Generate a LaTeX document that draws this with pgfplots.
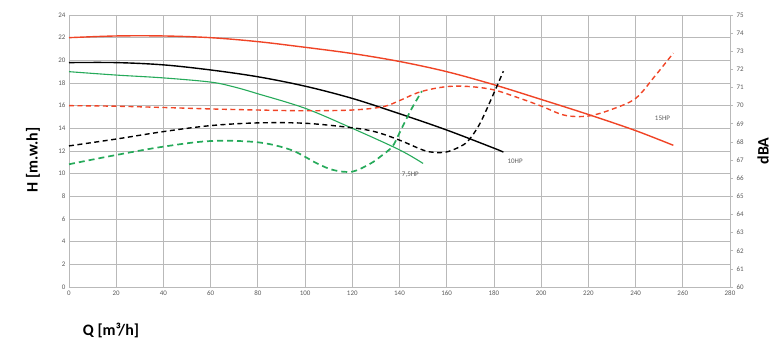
\documentclass[border=0pt]{standalone}
\usepackage{fontspec}
\setmainfont{Carlito}
\usepackage{pgfplots}
\pgfplotsset{compat=1.18}
\definecolor{redc}{RGB}{240,68,38}
\definecolor{greenc}{RGB}{38,170,90}
\definecolor{gridc}{RGB}{185,185,185}
\definecolor{tickc}{RGB}{90,90,90}
\begin{document}
\begin{tikzpicture}
\pgfplotsset{
  common/.style={width=661bp,height=272bp,scale only axis,xmin=0,xmax=280,
    /pgf/number format/assume math mode=true,
    tick label style={font=\fontsize{7}{8}\selectfont, text=tickc},
    clip=false},
  crv/.style={smooth, tension=0.55, line width=1.4bp, no markers},
  dsh/.style={crv, dash pattern=on 5bp off 3.5bp}
}
\begin{axis}[common, name=main, ymin=0, ymax=24,
  xtick={0,20,...,280}, ytick={0,2,...,24},
  grid=major, grid style={gridc, line width=0.8bp},
  axis line style={gridc, line width=0.8bp},
  tick style={draw=none},
  xlabel={Q [m³/h]}, ylabel={H [m.w.h]},
  label style={font=\bfseries\fontsize{16}{18}\selectfont, text=black},
  xlabel style={at={(axis description cs:0.0635,-0.158)}, anchor=center},
  ylabel style={at={(axis description cs:-0.0545,0.467)}, anchor=center},
]
\addplot[crv, redc] coordinates {(0,22.0) (20,22.15) (40,22.15) (60,22.0) (80,21.65) (100,21.15) (120,20.6) (140,19.9) (160,19.0) (180,17.85) (200,16.55) (220,15.22) (240,13.8) (256,12.5)};
\addplot[crv, black] coordinates {(0,19.8) (20,19.8) (40,19.6) (60,19.15) (80,18.55) (100,17.72) (120,16.64) (140,15.29) (160,13.85) (180,12.25) (184,11.9)};
\addplot[crv, greenc, line width=1.1bp] coordinates {(0,19.0) (20,18.7) (40,18.45) (60,18.08) (70,17.65) (80,17.05) (100,15.77) (120,14.0) (140,12.1) (150,10.9)};
\node[font=\fontsize{7}{8}\selectfont, text=tickc] at (axis cs:144.6,9.9) {7,5HP};
\node[font=\fontsize{7}{8}\selectfont, text=tickc] at (axis cs:189,11.1) {10HP};
\node[font=\fontsize{7}{8}\selectfont, text=tickc] at (axis cs:251.4,14.9) {15HP};
\end{axis}
\begin{axis}[common, ymin=60, ymax=75,
  axis y line*=right, axis x line=none,
  ytick={60,61,...,75},
  axis line style={gridc, line width=0.8bp},
  tick style={gridc, line width=0.6bp}, major tick length=3bp, tick align=outside,
  ylabel={dBA},
  ylabel style={font=\bfseries\fontsize{16}{18}\selectfont, text=black, at={(axis description cs:1.05,0.5)}, anchor=center, rotate=0},
]
\addplot[dsh, redc] coordinates {(0,70.0) (20,69.97) (40,69.9) (60,69.82) (80,69.76) (100,69.72) (120,69.76) (133,69.94) (140,70.28) (149,70.77) (160,71.05) (170,71.05) (180,70.87) (190,70.45) (200,69.98) (210,69.47) (220,69.43) (230,69.8) (240,70.4) (248,71.6) (256,72.9)};
\addplot[dsh, black] coordinates {(0,67.78) (20,68.16) (40,68.57) (60,68.9) (80,69.05) (100,69.03) (120,68.78) (130,68.55) (140,68.1) (150,67.55) (155,67.42) (160,67.45) (165,67.7) (169,68.05) (174,69.0) (180,70.7) (184,71.9)};
\addplot[dsh, greenc, line width=1.7bp, dash pattern=on 6bp off 4bp] coordinates {(0,66.77) (20,67.28) (40,67.74) (60,68.05) (80,67.98) (94,67.56) (105,66.82) (112,66.45) (120,66.36) (127.6,66.8) (132,67.2) (137,67.75) (140,68.5) (145,69.8) (149.5,70.8)};
\end{axis}
\pgfresetboundingbox
\path[use as bounding box] ([shift={(-69bp,-64bp)}]main.south west) rectangle ([shift={(51bp,15bp)}]main.north east);
\end{tikzpicture}
\end{document}
